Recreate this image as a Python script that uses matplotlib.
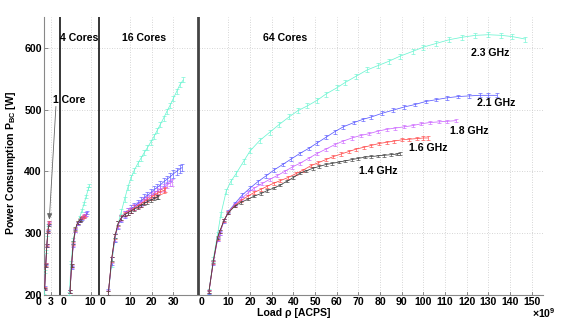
import matplotlib
matplotlib.use('Agg')
import matplotlib.pyplot as plt

plt.rcParams['font.family'] = ['Liberation Sans', 'DejaVu Sans']
plt.rcParams['font.weight'] = 'bold'
plt.rcParams['mathtext.fontset'] = 'custom'
plt.rcParams['mathtext.rm'] = 'Liberation Sans:bold'
plt.rcParams['mathtext.bf'] = 'Liberation Sans:bold'

# Frequenzen und Farben (Reihenfolge: 2.3, 2.1, 1.8, 1.6, 1.4 GHz)
freqs = ['2.3 GHz', '2.1 GHz', '1.8 GHz', '1.6 GHz', '1.4 GHz']
colors = ['#6cf5d2', '#5a5aff', '#cc66ff', '#ff4a4a', '#404040']

# 1 Core
load_1 = [[0.1, 0.6, 1.1, 1.6, 2.0],
          [0.3, 0.8, 1.3, 1.8, 2.3],
          [0.3, 0.8, 1.3, 1.8, 2.3],
          [0.3, 0.8, 1.3, 1.8, 2.3],
          [0.3, 0.8, 1.3, 1.8, 2.2]]
power_1 = [[200, 238, 270, 298, 313],
           [212, 250, 280, 303, 317],
           [210, 248, 279, 302, 316],
           [211, 249, 281, 304, 318],
           [210, 248, 280, 302, 313]]

# 4 Cores
load_4 = [[0.2, 1, 2, 3, 4, 5, 6, 7, 8, 9, 9.4],
          [0.5, 1.2, 2, 3, 4, 5, 6, 7, 8, 8.4],
          [0.5, 1.2, 2, 3, 4, 5, 6, 7, 7.9],
          [0.5, 1.2, 2, 3, 4, 5, 6, 7, 7.4],
          [0.5, 1.2, 2, 3, 4, 5, 5.4]]
power_4 = [[203, 252, 290, 306, 316, 326, 336, 348, 360, 372, 377],
           [205, 245, 280, 304, 315, 320, 324, 327, 331, 333],
           [206, 246, 282, 305, 316, 321, 325, 328, 331],
           [205, 247, 283, 306, 317, 322, 325, 327, 328],
           [205, 248, 285, 307, 317, 321, 323]]

# 16 Cores
load_16 = [[0, 1.5, 3, 4.5, 6, 7.5, 9, 10.5, 12, 13.5, 15, 16.5, 18, 19.5, 21, 22.5, 24, 25.5, 27, 28.5, 30, 31.5, 33, 34.6],
           [0, 1.5, 3, 4.5, 6, 7.5, 9, 10.5, 12, 13.5, 15, 16.5, 18, 19.5, 21, 22.5, 24, 25.5, 27, 28.5, 30, 31.5, 33, 34],
           [0, 1.5, 3, 4.5, 6, 7.5, 9, 10.5, 12, 13.5, 15, 16.5, 18, 19.5, 21, 22.5, 24, 25.5, 27, 28.5, 29.3],
           [0, 1.5, 3, 4.5, 6, 7.5, 9, 10.5, 12, 13.5, 15, 16.5, 18, 19.5, 21, 22.5, 24, 25.5, 26.2],
           [0, 1.5, 3, 4.5, 6, 7.5, 9, 10.5, 12, 13.5, 15, 16.5, 18, 19.5, 21, 22.5, 23]]
power_16 = [[203, 250, 289, 315, 335, 355, 374, 390, 402, 412, 421, 430, 438, 447, 456, 466, 476, 486, 497, 507, 518, 529, 540, 548],
            [203, 255, 292, 313, 324, 330, 335, 339, 343, 348, 352, 357, 361, 365, 370, 374, 378, 383, 387, 391, 396, 400, 404, 406],
            [203, 256, 293, 314, 325, 331, 335, 338, 342, 346, 349, 353, 357, 361, 364, 368, 371, 374, 378, 381, 382],
            [203, 257, 294, 315, 325, 331, 334, 337, 341, 344, 347, 351, 354, 357, 361, 364, 367, 369, 370],
            [203, 258, 295, 316, 325, 330, 333, 336, 339, 342, 345, 348, 351, 353, 356, 358, 359]]

# 64 Cores
load_64 = [[1, 3, 5, 6.5, 9, 11, 13.5, 17, 20, 24.5, 29, 33.5, 38, 42, 46.5, 51, 55, 60, 64, 69, 74, 79, 84, 89, 95, 100, 106, 112, 118, 124, 130, 136, 141, 147],
           [1, 3, 5, 6, 8, 10, 13, 16.5, 20, 23.5, 27.5, 31, 35, 39, 43, 47, 51, 55, 59, 63, 68, 72, 76, 81, 86, 91, 96, 101, 106, 111, 116, 121, 126, 130, 134],
           [1, 3, 5, 6, 8, 10, 13, 16, 19, 22, 25.5, 29, 32.5, 36, 39.5, 43, 47, 51, 55, 59, 63, 67, 71, 75, 79, 83, 87, 91, 95, 99, 103, 107, 111, 115],
           [1, 3, 5, 6, 8, 10, 13, 16, 19, 22, 25, 28, 31, 34, 37.5, 41, 44.5, 48, 51.5, 55, 58.5, 62, 65.5, 69, 72.5, 76, 79.5, 83, 86.5, 90, 93.5, 97, 100, 102],
           [1, 3, 5, 6, 8, 10, 13, 16, 19, 22, 25, 28, 31, 34, 37, 40, 43, 46, 49, 52, 55, 58, 61, 64, 67, 70, 73, 76, 79, 82, 85, 88, 89]]
power_64 = [[205, 258, 298, 330, 368, 383, 396, 416, 433, 450, 463, 476, 488, 498, 506, 515, 525, 535, 544, 554, 564, 571, 578, 586, 594, 601, 607, 613, 617, 620, 621, 620, 618, 614],
            [205, 252, 290, 300, 320, 335, 348, 362, 373, 383, 393, 402, 411, 420, 429, 437, 446, 455, 464, 472, 479, 484, 488, 494, 499, 504, 508, 513, 516, 519, 521, 522, 523, 523, 523],
            [205, 252, 290, 300, 320, 334, 346, 356, 365, 373, 380, 387, 393, 400, 407, 413, 421, 429, 436, 443, 449, 454, 458, 461, 465, 468, 470, 472, 474, 477, 479, 480, 481, 482],
            [205, 253, 292, 302, 321, 334, 345, 353, 360, 366, 371, 376, 381, 385, 390, 396, 402, 409, 414, 419, 424, 428, 432, 436, 439, 442, 445, 447, 449, 451, 452, 453, 454, 454],
            [205, 254, 293, 303, 321, 333, 344, 350, 355, 360, 364, 369, 373, 378, 384, 390, 397, 401, 405, 408, 411, 413, 415, 417, 419, 421, 423, 424, 425, 426, 427, 428, 429]]

# Fehlerbalken (halbe Breite, je Frequenz)
err_1 = [2, 2, 2, 2, 2]
err_4 = [2.5, 2.5, 2.5, 2.5, 2.5]
err_16 = [4, 6, 5, 4, 3]
err_64 = [4, 3, 2.5, 2.5, 2]

# Segmente der gebrochenen x-Achse: Versatz, Ticks
offsets = [0.0, 11.5, 29.7, 75.1]
seg_ticks = [[0, 3], [0, 10], [0, 10, 20, 30], [0, 10, 20, 30, 40, 50, 60, 70, 80, 90, 100, 110, 120, 130, 140, 150]]
separators = [7.25, 25.4, 70.9]
seg_names = ['4 Cores', '16 Cores', '64 Cores']

fig = plt.figure(figsize=(5.68, 3.22), dpi=100)
ax = fig.add_axes([44 / 568, 1 - 295 / 322, 499 / 568, 278.2 / 322])
ax.set_xlim(0, 230.3)
ax.set_ylim(200, 650)

fs = 7.6
grid_kw = dict(color='#c8c8c8', lw=0.6, ls=(0, (1, 2)), zorder=0)

for yv in [300, 400, 500, 600]:
    ax.axhline(yv, **grid_kw)

xtr = ax.get_xaxis_transform()
for off, ticks in zip(offsets, seg_ticks):
    for t in ticks:
        if t == 0:
            ax.text(off - 2.6, -0.008, '0', transform=xtr, ha='center', va='top',
                    fontsize=fs, fontweight='bold', clip_on=False)
        else:
            ax.axvline(off + t, **grid_kw)
            ax.plot([off + t, off + t], [0, 0.011], transform=xtr, color='#777777', lw=0.6)
            ax.text(off + t, -0.008, str(t), transform=xtr, ha='center', va='top',
                    fontsize=fs, fontweight='bold', clip_on=False)

for i, sep in enumerate(separators):
    if i < 2:
        ax.axvline(sep, color='black', lw=1.1, zorder=5)
    else:
        ax.axvline(sep, color='#444444', lw=2.0, zorder=5)

all_loads = [load_1, load_4, load_16, load_64]
all_powers = [power_1, power_4, power_16, power_64]
all_errs = [err_1, err_4, err_16, err_64]
for off, loads, powers, errs in zip(offsets, all_loads, all_powers, all_errs):
    for k in range(len(freqs)):
        xs = [off + v for v in loads[k]]
        ax.errorbar(xs, powers[k], yerr=errs[k], color=colors[k], lw=0.55,
                    elinewidth=0.45, capsize=1.3, capthick=0.45, zorder=3)

# Beschriftungen
for off, name, nx in zip(offsets[1:], seg_names, [16.2, 46.0, 111.4]):
    ax.text(nx, 615.7, name, ha='center', va='center', fontsize=fs, fontweight='bold')

ax.text(4.3, 515, '1 Core', ha='left', va='center', fontsize=fs, fontweight='bold')
ax.annotate('', xy=(2.45, 322), xytext=(5.5, 505),
            arrowprops=dict(arrowstyle='-|>,head_length=0.35,head_width=0.15',
                            color='#666666', lw=0.6, shrinkA=0, shrinkB=0))

freq_pos = [(205.8, 591), (208.7, 511), (196.3, 465.7), (177.4, 437.2), (154.1, 401)]
for f, (fx, fy) in zip(freqs, freq_pos):
    ax.text(fx, fy, f, ha='center', va='center', fontsize=fs, fontweight='bold')

ax.set_yticks([200, 300, 400, 500, 600])
ax.set_yticklabels(['200', '300', '400', '500', '600'], fontsize=fs, fontweight='bold')
ax.tick_params(axis='y', direction='in', length=3, width=0.6, color='#777777', pad=1.5)
ax.set_xticks([])

for side in ['top', 'right']:
    ax.spines[side].set_visible(False)
for side in ['left', 'bottom']:
    ax.spines[side].set_color('#888888')
    ax.spines[side].set_linewidth(0.8)

fig.text(294 / 568, 1 - 313 / 322, 'Load ρ [ACPS]', ha='center', va='center',
         fontsize=fs, fontweight='bold')
fig.text(532 / 568, 1 - 313 / 322, r'$\times$10$^{9}$', ha='left', va='center', fontsize=fs)
fig.text(11.5 / 568, 1 - 163 / 322, r'Power Consumption P$_{\mathrm{BC}}$ [W]', rotation=90,
         ha='center', va='center', fontsize=fs, fontweight='bold')

fig.savefig('out.png', dpi=100)
